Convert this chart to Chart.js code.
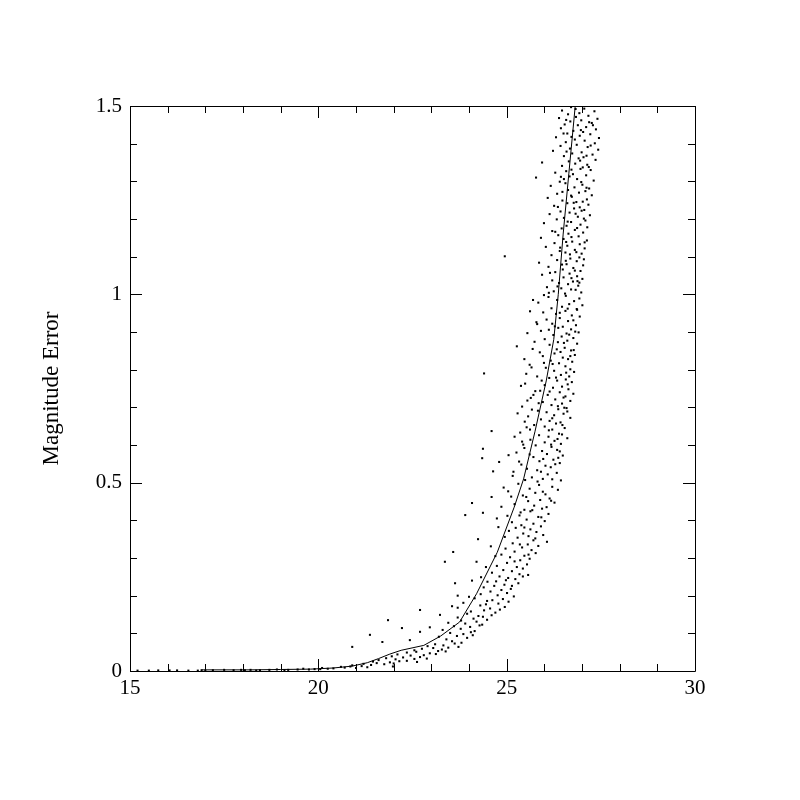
<!DOCTYPE html>
<html>
<head>
<meta charset="utf-8">
<script src="https://cdn.jsdelivr.net/npm/chart.js@4.4.1/dist/chart.umd.min.js"></script>
<style>
  html, body { margin: 0; padding: 0; background: #fff; }
  canvas { display: block; }
</style>
</head>
<body>
<canvas id="MagnitudeError" width="800" height="800"></canvas>
<script>
// axis ticks
const xTicks = [15, 20, 25, 30];
const yTicks = [0, 0.5, 1, 1.5];

// running mean of the error
const meanMag = [16.9, 17.5, 18.2, 19.0, 19.8, 20.4, 20.9, 21.3, 21.6, 21.9, 22.2, 22.8, 23.25, 23.75, 24.2, 24.75, 25.2, 25.45, 25.75, 26.05, 26.25, 26.37, 26.5, 26.65, 26.82, 26.86];
const meanErr = [0.003, 0.003, 0.003, 0.004, 0.005, 0.008, 0.013, 0.022, 0.033, 0.045, 0.055, 0.068, 0.093, 0.130, 0.205, 0.315, 0.435, 0.51, 0.635, 0.77, 0.88, 1.0, 1.16, 1.32, 1.5, 1.56];

// stars, [mag, err]
const faintStars = [
  [26.71,1.497],[27.06,1.493],[26.47,1.488],[27.33,1.486],[26.93,1.481],[26.63,1.478],[27.17,1.474],[26.84,1.471],[26.39,1.468],[27.41,1.466],
  [26.98,1.462],[26.69,1.459],[27.26,1.455],[26.54,1.451],[26.89,1.449],[27.11,1.444],[26.44,1.441],[27.37,1.438],[26.77,1.434],[27.03,1.431],
  [26.61,1.427],[27.22,1.425],[26.94,1.421],[26.31,1.417],[27.45,1.415],[26.81,1.411],[27.07,1.408],[26.57,1.404],[27.34,1.401],[26.86,1.397],
  [26.43,1.394],[27.15,1.391],[26.68,1.387],[27.43,1.384],[26.23,1.381],[26.99,1.377],[26.74,1.374],[27.28,1.371],[26.52,1.367],[27.04,1.364],
  [26.91,1.361],[27.36,1.357],[26.65,1.353],[25.94,1.350],[26.82,1.347],[27.14,1.344],[26.47,1.341],[27.02,1.337],[26.96,1.333],[27.23,1.330],
  [26.58,1.327],[26.29,1.323],[26.76,1.319],[27.11,1.316],[26.67,1.313],[25.78,1.310],[26.87,1.306],[27.31,1.302],[26.41,1.299],[26.56,1.295],
  [27.01,1.291],[26.17,1.288],[26.80,1.284],[27.19,1.281],[26.63,1.277],[27.09,1.274],[26.92,1.270],[26.34,1.267],[27.26,1.263],[26.73,1.259],
  [26.09,1.256],[27.13,1.252],[26.48,1.249],[26.85,1.245],[26.61,1.242],[27.17,1.238],[26.26,1.235],[26.94,1.231],[26.79,1.228],[27.06,1.224],
  [26.43,1.220],[26.67,1.217],[26.14,1.213],[27.21,1.210],[26.89,1.206],[26.52,1.203],[26.33,1.199],[27.09,1.196],[26.71,1.192],[25.99,1.189],
  [26.96,1.185],[26.59,1.182],[27.14,1.178],[26.46,1.175],[26.81,1.171],[26.21,1.168],[27.03,1.164],[26.64,1.161],[26.37,1.157],[26.91,1.154],
  [25.91,1.150],[26.51,1.147],[27.13,1.143],[26.74,1.140],[26.27,1.136],[26.94,1.133],[26.61,1.129],[26.04,1.126],[27.07,1.122],[24.95,1.101],
  [26.81,1.118],[26.41,1.115],[26.56,1.111],[26.99,1.108],[26.19,1.104],[26.93,1.098],[26.69,1.095],[26.34,1.091],[26.86,1.088],[25.86,1.084],
  [26.59,1.080],[27.03,1.077],[26.11,1.073],[26.77,1.070],[26.49,1.066],[26.96,1.062],[26.29,1.059],[26.67,1.055],[25.94,1.052],[26.87,1.048],
  [26.51,1.045],[27.01,1.041],[26.21,1.037],[26.76,1.034],[26.39,1.030],[26.63,1.027],[26.90,1.023],[26.07,1.019],[26.45,1.016],[26.83,1.012],
  [26.25,1.008],[26.98,1.005],[26.55,1.002],
  [26.83,1.492],[26.58,1.463],[27.19,1.457],[26.97,1.436],[26.72,1.418],[27.23,1.395],[26.59,1.379],[26.95,1.355],[27.18,1.338],[26.72,1.331],
  [26.44,1.312],[26.98,1.298],[27.12,1.283],[26.48,1.272],[26.71,1.262],[27.02,1.246],[26.36,1.232],[26.83,1.214],[27.05,1.201],[26.62,1.193],
  [26.87,1.176],[26.29,1.166],[26.72,1.152],[27.07,1.138],[26.42,1.124],[26.85,1.112],[26.68,1.106],[27.05,1.093],[26.47,1.079],[26.81,1.063],
  [26.15,1.057],[26.72,1.043],[26.93,1.031],[26.35,1.021],[26.71,1.013],[26.12,1.004],[26.88,1.035],[26.58,1.139],[26.99,1.222],[26.52,1.306],
  [27.29,1.449],[26.51,1.427],[27.12,1.368],[26.78,1.243],[26.57,1.089]
];

const midStars = [
  [26.57,0.996],[26.11,0.993],[26.93,0.989],[26.34,0.985],[26.79,0.982],[25.84,0.978],[26.66,0.974],[27.01,0.971],[26.47,0.967],[26.19,0.963],
  [26.87,0.959],[26.56,0.956],[25.97,0.952],[26.31,0.948],[26.73,0.944],[26.94,0.941],[26.41,0.937],[26.06,0.933],[26.63,0.929],[25.79,0.926],
  [26.21,0.922],[26.84,0.918],[26.49,0.914],[26.37,0.911],[26.71,0.907],[25.91,0.903],[26.91,0.899],[26.59,0.896],[26.24,0.892],[26.46,0.888],
  [26.77,0.884],[26.01,0.881],[26.61,0.877],[25.27,0.862],[26.36,0.873],[26.87,0.869],[26.14,0.866],[26.54,0.858],[25.69,0.855],[26.71,0.851],
  [26.43,0.847],[26.27,0.843],[26.81,0.839],[25.96,0.836],[26.49,0.832],[26.63,0.828],[26.17,0.824],[26.74,0.821],[26.39,0.817],[25.61,0.813],
  [26.56,0.809],[24.40,0.790],[26.04,0.805],[26.69,0.801],[26.26,0.797],[26.79,0.794],[26.44,0.786],[25.81,0.782],[26.13,0.778],[26.57,0.774],
  [26.34,0.771],[26.73,0.767],[25.49,0.763],[26.01,0.759],[26.47,0.755],[26.23,0.752],[26.64,0.748],[25.89,0.744],[26.41,0.740],[26.77,0.736],
  [26.09,0.733],[26.56,0.729],[25.64,0.725],[26.29,0.721],[26.69,0.717],[25.96,0.714],[26.47,0.710],[26.19,0.706],[25.41,0.702],[26.59,0.698],
  [26.37,0.695],[25.83,0.691],[26.06,0.687],[26.51,0.683],[26.26,0.679],[25.57,0.676],[26.69,0.672],[25.91,0.668],[26.14,0.664],[26.43,0.660],
  [24.60,0.637],[26.31,0.657],[25.73,0.653],[26.01,0.649],[26.54,0.645],[26.21,0.641],[25.36,0.633],[26.39,0.630],[25.86,0.626],[26.11,0.622],
  [26.61,0.618],[25.63,0.614],[26.27,0.611],[24.37,0.590],[26.01,0.607],[26.44,0.603],[25.77,0.599],[26.19,0.595],[25.47,0.592],[26.34,0.587],
  [25.94,0.584],[24.35,0.565],[25.26,0.580],[26.07,0.576],[26.49,0.572],[24.80,0.555],[25.71,0.568],[26.24,0.561],[25.87,0.557],[26.41,0.552],
  [25.39,0.548],[24.64,0.530],[26.03,0.545],[26.17,0.541],[25.54,0.537],[25.81,0.533],[26.33,0.526],[26.09,0.522],[25.16,0.518],[25.67,0.514],
  [25.96,0.510],[26.44,0.506],[25.82,0.503],
  [26.62,0.962],[26.41,0.951],[26.77,0.931],[26.28,0.915],[26.66,0.893],[26.52,0.871],[26.33,0.854],[26.69,0.836],[26.22,0.815],[26.58,0.792],
  [26.31,0.779],[26.62,0.761],[26.14,0.742],[26.51,0.726],[26.36,0.703],[26.61,0.689],[26.21,0.671],[26.48,0.653],[26.12,0.639],[26.35,0.616],
  [26.18,0.601],[26.41,0.583],[25.97,0.563],[26.29,0.549],[25.91,0.529],[26.21,0.509],[26.82,0.901],[26.12,0.906],[25.99,0.818],[25.76,0.743],
  [25.67,0.694],[25.53,0.647],[25.44,0.601],[25.61,0.575],[26.86,0.961],[26.78,0.852],[26.66,0.782],[26.53,0.699],[26.47,0.628],[26.37,0.566],
  [25.62,0.955],[25.81,0.921],[25.55,0.897],[25.74,0.874],[25.88,0.846],[25.47,0.828],[25.66,0.806],[25.93,0.771],[25.38,0.757],[25.71,0.733],
  [25.55,0.718],[25.29,0.684],[25.48,0.662],[25.62,0.641],[25.21,0.622],[25.41,0.609],[25.05,0.573],[25.33,0.556],[25.18,0.529],[25.49,0.507],
  [25.70,0.985],[25.99,0.998],[25.52,0.789],[25.85,0.711]
];

const lowStars = [
  [25.31,0.497],[25.86,0.494],[26.21,0.489],[25.61,0.484],[26.36,0.481],[25.04,0.477],[25.76,0.473],[26.03,0.469],[24.60,0.462],[25.43,0.466],
  [26.14,0.458],[25.89,0.454],[25.57,0.451],[26.27,0.447],[24.08,0.446],[25.21,0.443],[25.73,0.439],[26.06,0.435],[25.94,0.431],[25.47,0.428],
  [24.37,0.420],[25.63,0.424],[26.11,0.417],[23.90,0.414],[25.34,0.413],[25.84,0.409],[24.74,0.405],[25.53,0.402],[26.01,0.398],[25.14,0.395],
  [25.71,0.391],[25.39,0.387],[25.91,0.384],[25.24,0.380],[25.63,0.376],[25.06,0.372],[25.79,0.369],[25.44,0.365],[25.97,0.361],[25.58,0.358],
  [24.24,0.350],[25.29,0.354],[25.71,0.347],[26.07,0.343],[25.16,0.339],[25.56,0.336],[25.84,0.332],[25.41,0.328],[24.97,0.325],[25.66,0.321],
  [25.21,0.317],[25.77,0.313],[23.58,0.316],[24.86,0.309],[25.47,0.306],[25.09,0.302],[25.61,0.298],[25.36,0.294],[23.36,0.290],[24.20,0.290],
  [25.01,0.287],[25.54,0.283],[24.74,0.279],[25.27,0.276],[25.43,0.272],[24.91,0.268],[25.14,0.265],[24.61,0.261],[25.34,0.257],[25.57,0.255],
  [24.81,0.251],[25.04,0.247],[25.23,0.244],[24.08,0.240],[24.49,0.237],[25.31,0.233],[23.63,0.233],[24.94,0.229],[24.67,0.226],[24.39,0.222],
  [25.11,0.218],[24.86,0.215],[24.57,0.211],[25.01,0.207],[23.70,0.200],[24.31,0.204],[24.76,0.201],[25.19,0.198],[24.00,0.197],
  [25.96,0.476],[25.52,0.462],[25.68,0.427],[25.92,0.408],[25.47,0.381],[25.76,0.352],[25.35,0.336],[25.58,0.309],[25.21,0.291],[25.43,0.251],
  [24.98,0.241],[25.14,0.226],[24.72,0.238],[25.37,0.421],[26.18,0.452],
  [24.92,0.487],[25.12,0.463],[24.86,0.436],[25.02,0.412],[24.78,0.382],[24.95,0.356],[24.58,0.331],[24.70,0.305],[24.45,0.276],[24.32,0.249]
];

const brightStars = [
  [24.15,0.193],[24.62,0.188],[24.90,0.191],[25.05,0.184],[23.85,0.181],[24.45,0.177],[24.78,0.179],[23.55,0.172],[23.70,0.168],[24.30,0.174],
  [24.56,0.166],[24.95,0.170],[22.70,0.162],[24.05,0.158],[24.40,0.161],[24.70,0.155],[23.23,0.149],[23.95,0.152],[24.25,0.146],[24.60,0.148],
  [23.70,0.142],[24.12,0.139],[24.48,0.136],[21.85,0.135],[24.20,0.131],[23.45,0.128],[23.90,0.126],[24.35,0.123],[23.60,0.119],[24.03,0.117],
  [24.28,0.121],[22.22,0.114],[22.96,0.116],[23.30,0.109],[23.78,0.112],[24.15,0.106],[22.70,0.104],[23.50,0.101],[23.85,0.098],[24.05,0.103],
  [21.37,0.096],[23.20,0.091],[23.68,0.093],[23.95,0.088],[22.43,0.082],[23.40,0.084],[21.70,0.077],[23.55,0.079],[23.80,0.075],[23.10,0.071],
  [23.32,0.068],[23.62,0.073],[20.90,0.064],[22.90,0.066],[23.45,0.062],[22.75,0.059],[23.05,0.061],[23.28,0.057],[23.18,0.053],[22.55,0.055],
  [22.35,0.049],[22.60,0.051],[22.96,0.047],[23.12,0.045],[22.10,0.044],[22.80,0.042],[21.95,0.039],[22.45,0.041],[22.70,0.037],[21.80,0.034],
  [22.25,0.036],[22.55,0.032],[21.60,0.029],[22.05,0.031],[22.35,0.027],[21.45,0.025],[21.90,0.023],[22.15,0.026],[21.20,0.019],[21.55,0.021],
  [21.75,0.018],[22.00,0.020],[20.90,0.015],[21.15,0.013],[21.40,0.016],[20.60,0.011],[20.85,0.012],[21.30,0.010],[20.10,0.008],[20.40,0.007],
  [20.70,0.009],[21.00,0.008],[19.60,0.006],[19.90,0.005],[20.25,0.006],[18.90,0.004],[19.20,0.003],[19.45,0.004],[19.75,0.004],[20.05,0.005],
  [18.20,0.003],[18.45,0.002],[18.70,0.003],[17.95,0.003],[16.90,0.002],[17.20,0.002],[17.50,0.003],[17.75,0.002],[18.05,0.002],[15.75,0.0015],
  [16.25,0.0015],[16.55,0.001],[16.05,0.0015],[15.50,0.001],[17.00,0.001],[15.20,0.001],[16.80,0.001],[18.35,0.001],[19.10,0.002],
  [24.48,0.186],[24.82,0.163],[24.37,0.144],[23.79,0.134],[24.10,0.095],[23.72,0.064],[23.38,0.052],[22.88,0.033],[22.62,0.024],[21.98,0.012]
];

const allStars = faintStars.concat(midStars, lowStars, brightStars);

// inward ticks on all four sides + frame
const frameTicks = {
    id: "frameTicks",
    afterDraw(chart) {
        const { ctx, chartArea: a, scales } = chart;
        const x = scales.x, y = scales.y;
        ctx.save();
        ctx.strokeStyle = "#000";
        ctx.lineWidth = 1;
        ctx.beginPath();
        ctx.rect(a.left + 0.5, a.top + 0.5, a.right - a.left, a.bottom - a.top);
        for (let i = 15; i <= 30; i++) {
            const px = Math.round(x.getPixelForValue(i)) + 0.5;
            const len = i % 5 === 0 ? 12 : 7;
            ctx.moveTo(px, a.bottom); ctx.lineTo(px, a.bottom - len);
            ctx.moveTo(px, a.top); ctx.lineTo(px, a.top + len);
        }
        for (let i = 0; i <= 15; i++) {
            const py = Math.round(y.getPixelForValue(i / 10)) + 0.5;
            const len = i % 5 === 0 ? 12 : 7;
            ctx.moveTo(a.left, py); ctx.lineTo(a.left + len, py);
            ctx.moveTo(a.right, py); ctx.lineTo(a.right - len, py);
        }
        ctx.stroke();
        ctx.restore();
    },
};

const font = { family: "'Liberation Serif', serif", size: 21 };

new Chart(document.getElementById("MagnitudeError"), {
    type: "scatter",
    data: {
        datasets: [
            {
                label: "stars",
                data: allStars.map(p => ({ x: p[0], y: p[1] })),
                backgroundColor: "#000",
                borderWidth: 0,
                pointStyle: "rect",
                pointRadius: 1.45,
            },
            {
                label: "mean",
                type: "line",
                data: meanMag.map((m, i) => ({ x: m, y: meanErr[i] })),
                borderColor: "#000",
                borderWidth: 1,
                pointRadius: 0,
                tension: 0,
                fill: false,
            },
        ],
    },
    options: {
        responsive: false,
        animation: false,
        events: [],
        layout: {
            padding: { left: 0, top: 106, right: 105, bottom: 0 },
        },
        scales: {
            x: {
                type: "linear",
                min: xTicks[0],
                max: xTicks[xTicks.length - 1],
                afterBuildTicks: s => { s.ticks = xTicks.map(v => ({ value: v })); },
                afterFit: s => { s.height = 129; },
                ticks: { font, color: "#000", padding: 5, maxRotation: 0, callback: v => String(v) },
                grid: { display: false, drawTicks: false },
                border: { display: false },
            },
            y: {
                type: "linear",
                min: yTicks[0],
                max: yTicks[yTicks.length - 1],
                afterBuildTicks: s => { s.ticks = yTicks.map(v => ({ value: v })); },
                afterFit: s => { s.width = 130; },
                ticks: { font, color: "#000", padding: 8, callback: v => String(v) },
                grid: { display: false, drawTicks: false },
                border: { display: false },
                title: {
                    display: true,
                    text: "Magnitude Error",
                    font: { family: "'Liberation Serif', serif", size: 23 },
                    color: "#000",
                    padding: { top: 38, bottom: 0 },
                },
            },
        },
        plugins: {
            legend: { display: false },
            tooltip: { enabled: false },
        },
    },
    plugins: [frameTicks],
});
</script>
</body>
</html>
